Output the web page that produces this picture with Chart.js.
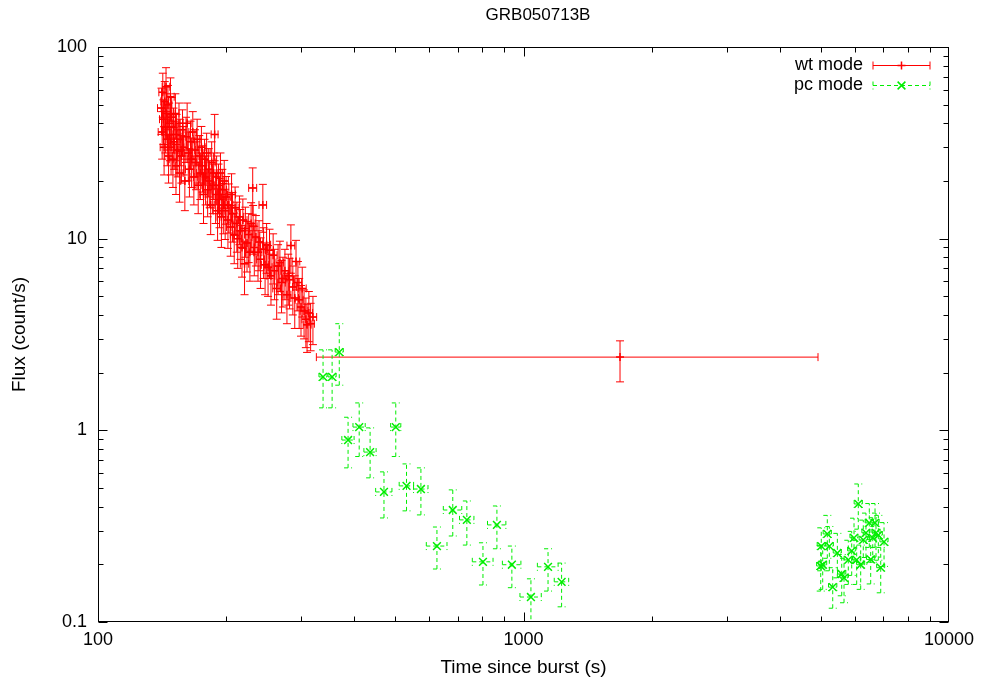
<!DOCTYPE html>
<html><head><meta charset="utf-8">
<script src="https://cdn.jsdelivr.net/npm/chart.js@4/dist/chart.umd.min.js"></script>
<style>html,body{margin:0;padding:0;background:#fff}</style>
</head><body>
<canvas id="c" width="987" height="687"></canvas>
<script>
// ---------- data ----------
const chartTitle = 'GRB050713B';
const xTitle = 'Time since burst (s)';
const yTitle = 'Flux (count/s)';
const xTickValues = [100, 1000, 10000];
const xTickLabels = ['100', '1000', '10000'];
const yTickValues = [0.1, 1, 10, 100];
const yTickLabels = ['0.1', '1', '10', '100'];
const seriesNames = ['wt mode', 'pc mode'];

// wt mode (early dense segment)
const wtX = [141,141.5,142,142.5,143,143.5,144,144.5,145,145.5,
  146,146.5,147,147.5,148,148.5,149,150,150.5,151,
  152,152.5,153,154,155,155.5,156,157,158,159,
  160,161,162,163,164,165,166,167,168,169,
  170,171,172,173,174,175,176,177,178,179,
  180,181,182,183,184,185,186,187,188,189,
  190,191,192,193,194,195,196,197,198,199,
  200,202,203,205,206,207,209,210,212,213,
  215,216,218,219,221,222,224,226,227.5,229,
  231,231.5,233,235,237.7,239,241,244,245,247,
  249,251,253,255,258,260,263,265,267.6,270,
  272,275,278,280,282,284,287,290,292,295,
  297,300,302,305,308,310,313,316,320];
const wtY = [48,36,58,42,30,52,38,62,45,33,
  50,27,40,35,55,30,43,26,38,32,
  45,24,35,29,40,22,33,27,37,30,
  20,34,40,28,23,32,26,36,21,29,
  25,33,19,27,22,30,24,17,26,21,
  28,18,23,20,15,25,19,22,35,17,
  21,14,19,16,22,13,18,15,20,14,
  16.5,12.5,15,11.5,17,13.5,10.5,14.5,12,10,
  13,11,9,12.5,7.4,11.3,9.5,10.5,8.5,12,
  18.4,11.6,9,10.2,8.5,9.6,7.8,15,8.8,7.3,
  9.3,7.1,8.7,6.4,8.2,6.8,5.5,7.2,7.5,5.9,
  6.2,6.8,5.1,6.4,6.1,9.2,5.6,4.9,7.6,5.9,
  4.8,4.4,5.5,4.2,3.8,3.55,4.1,3.6,3.9];
const wtYerr = [13,10,15,11,8.5,14,10,16,12,9,
  13,7.5,11,9.5,14,8.5,11.5,7.5,10,9,
  12,7,9.5,8,11,6.5,9,7.5,10,8.5,
  6,9,11,8,6.5,9,7.5,10,6,8,
  7,9,5.5,7.5,6,8.5,6.5,5,7,6,
  7.5,5,6.5,5.5,4.5,7,5.5,6,9.5,5,
  6,4.2,5.5,4.6,6,4,5,4.4,5.6,4.1,
  4.6,3.6,4.3,3.4,4.8,3.9,3.1,4.1,3.5,3,
  3.7,3.2,2.7,3.6,2.3,3.3,2.8,3,2.5,3.4,
  5,3.3,2.6,3,2.5,2.8,2.3,4.2,2.6,2.2,
  2.7,2.1,2.5,1.9,2.4,2,1.7,2.1,2.2,1.8,
  1.8,2,1.5,1.9,1.8,2.6,1.6,1.5,2.2,1.7,
  1.4,1.3,1.6,1.2,1.1,1,1.2,1,1.1];
const wtXerr = [3,3,3,3,3,3,3,3,3,3,
  3,3,3,3,3,3,3,3,3,3,
  3,3,3,3,3,3,3,3,3,3,
  3.5,3.5,3.5,3.5,3.5,3.5,3.5,3.5,3.5,3.5,
  3.5,3.5,3.5,3.5,3.5,3.5,3.5,3.5,3.5,3.5,
  3.5,3.5,3.5,3.5,3.5,3.5,3.5,3.5,3.5,3.5,
  4.5,4.5,4.5,4.5,4.5,4.5,4.5,4.5,4.5,4.5,
  4.5,4.5,4.5,4.5,4.5,4.5,4.5,4.5,4.5,4.5,
  5,5,5,5,5,5,5,5,5,5,
  5,5,5,5,5,5,5,5,5,5,
  5.5,5.5,5.5,5.5,5.5,5.5,5.5,5.5,5.5,5.5,
  6,6,6,6,6,6,6,6,6,6,
  6.5,6.5,6.5,6.5,6.5,6.5,6.5,6.5,6.5];
// wt mode (single wide late bin)
const wtLateX = [1686];
const wtLateY = [2.41];
const wtLateXlo = [326];
const wtLateXhi = [4922];
const wtLateYlo = [1.79];
const wtLateYhi = [2.93];

// pc mode
const pcX = [338,355,369,387,411,436,470,501,531,574,
  626,682,736,803,866,939,1041,1142,1229,
  4995,5049,5010,5176,5233,5330,5465,5596,5666,5799,
  5907,5981,6068,6121,6201,6289,6381,6497,6546,6619,
  6701,6737,6822,6911,7036];
const pcY = [1.90,1.90,2.56,0.89,1.04,0.77,0.477,1.04,0.513,0.494,
  0.249,0.384,0.341,0.206,0.321,0.199,0.135,0.194,0.162,
  0.196,0.199,0.249,0.288,0.249,0.152,0.229,0.178,0.170,0.211,
  0.235,0.275,0.211,0.413,0.199,0.268,0.292,0.329,0.212,0.275,
  0.329,0.292,0.284,0.192,0.262];
const pcYlo = [1.31,1.31,1.72,0.637,0.73,0.565,0.349,0.73,0.38,0.362,
  0.189,0.281,0.252,0.156,0.241,0.151,0.095,0.145,0.12,
  0.145,0.148,0.185,0.215,0.185,0.118,0.17,0.137,0.126,0.157,
  0.175,0.205,0.157,0.305,0.148,0.2,0.217,0.245,0.158,0.205,
  0.245,0.218,0.21,0.142,0.195];
const pcYhi = [2.63,2.63,3.6,1.17,1.39,1.03,0.607,1.39,0.668,0.637,
  0.313,0.489,0.428,0.259,0.403,0.249,0.168,0.241,0.203,
  0.25,0.252,0.31,0.36,0.315,0.192,0.29,0.225,0.215,0.267,
  0.297,0.348,0.267,0.525,0.252,0.34,0.37,0.415,0.27,0.35,
  0.415,0.37,0.36,0.245,0.33];
const pcXerr = [7.4,7.8,8.1,12.8,13.6,14.4,20.7,13.8,20.7,22.4,
  35,34,28.7,45,43,47,60,64,48,
  110,110,110,115,115,120,120,125,125,130,
  130,130,135,135,135,140,140,145,145,145,
  150,150,150,150,155];

// ---------- build chart data ----------
const wtData = wtX.map((x, i) => ({
  x: x, y: wtY[i],
  xMin: x - wtXerr[i], xMax: x + wtXerr[i],
  yMin: wtY[i] - wtYerr[i], yMax: wtY[i] + wtYerr[i]
})).concat(wtLateX.map((x, i) => ({
  x: x, y: wtLateY[i], xMin: wtLateXlo[i], xMax: wtLateXhi[i],
  yMin: wtLateYlo[i], yMax: wtLateYhi[i]
})));
const pcData = pcX.map((x, i) => ({
  x: x, y: pcY[i], xMin: x - pcXerr[i], xMax: x + pcXerr[i],
  yMin: pcYlo[i], yMax: pcYhi[i]
}));

const FONT = "'Liberation Sans', Arial, Helvetica, sans-serif";
const CAP = 4;

const errorBars = {
  id: 'errorBars',
  beforeDatasetsDraw(chart) {
    const {ctx, chartArea: a, scales: {x, y}} = chart;
    ctx.save();
    ctx.beginPath();
    ctx.rect(a.left, a.top, a.right - a.left, a.bottom - a.top);
    ctx.clip();
    chart.data.datasets.forEach((ds) => {
      ctx.strokeStyle = ds.borderColor;
      ctx.lineWidth = 1;
      ctx.setLineDash(ds.errDash || []);
      ds.data.forEach(p => {
        const px = x.getPixelForValue(p.x), py = y.getPixelForValue(p.y);
        const x0 = x.getPixelForValue(p.xMin), x1 = x.getPixelForValue(p.xMax);
        const y0 = y.getPixelForValue(Math.max(p.yMin, 1e-3)), y1 = y.getPixelForValue(p.yMax);
        ctx.beginPath();
        ctx.moveTo(x0, py); ctx.lineTo(x1, py);
        ctx.moveTo(x0, py - CAP); ctx.lineTo(x0, py + CAP);
        ctx.moveTo(x1, py - CAP); ctx.lineTo(x1, py + CAP);
        ctx.stroke();
        ctx.beginPath();
        ctx.moveTo(px, y0); ctx.lineTo(px, y1);
        ctx.moveTo(px - CAP, y0); ctx.lineTo(px + CAP, y0);
        ctx.moveTo(px - CAP, y1); ctx.lineTo(px + CAP, y1);
        ctx.stroke();
      });
    });
    ctx.restore();
  }
};

const frameTicks = {
  id: 'frameTicks',
  afterDraw(chart) {
    const {ctx, chartArea: a, scales: {x, y}} = chart;
    ctx.save();
    ctx.strokeStyle = '#000';
    ctx.lineWidth = 1;
    ctx.setLineDash([]);
    const L = Math.round(a.left) + 0.5, R = Math.round(a.right) - 0.5;
    const T = Math.round(a.top) + 0.5, B = Math.round(a.bottom) - 0.5;
    ctx.strokeRect(L, T, R - L, B - T);
    ctx.beginPath();
    const xLo = Math.log10(x.min), xHi = Math.log10(x.max);
    for (let d = Math.floor(xLo); d < xHi; d++) {
      for (let k = 1; k <= 9; k++) {
        const v = k * Math.pow(10, d);
        if (v < x.min || v > x.max) continue;
        const len = k === 1 ? 9 : 5;
        const px = Math.round(x.getPixelForValue(v)) + 0.5;
        ctx.moveTo(px, B); ctx.lineTo(px, B - len);
        ctx.moveTo(px, T); ctx.lineTo(px, T + len);
      }
    }
    const yLo = Math.log10(y.min), yHi = Math.log10(y.max);
    for (let d = Math.round(yLo); d < Math.round(yHi); d++) {
      for (let k = 1; k <= 9; k++) {
        const v = k * Math.pow(10, d);
        const len = k === 1 ? 9 : 5;
        const py = Math.round(y.getPixelForValue(v)) + 0.5;
        ctx.moveTo(L, py); ctx.lineTo(L + len, py);
        ctx.moveTo(R, py); ctx.lineTo(R - len, py);
      }
    }
    const pyTop = Math.round(y.getPixelForValue(y.max)) + 0.5;
    ctx.moveTo(L, pyTop); ctx.lineTo(L + 9, pyTop);
    ctx.moveTo(R, pyTop); ctx.lineTo(R - 9, pyTop);
    const pxR = Math.round(x.getPixelForValue(x.max)) - 0.5;
    ctx.moveTo(pxR, B); ctx.lineTo(pxR, B - 9);
    ctx.moveTo(pxR, T); ctx.lineTo(pxR, T + 9);
    ctx.stroke();
    ctx.restore();
  }
};

const titleAndKey = {
  id: 'titleAndKey',
  afterDraw(chart) {
    const {ctx, chartArea: a} = chart;
    ctx.save();
    // chart title
    ctx.fillStyle = '#000';
    ctx.font = '17px ' + FONT;
    ctx.textAlign = 'center';
    ctx.textBaseline = 'middle';
    ctx.fillText(chartTitle, 538, 15);
    // key
    ctx.font = '18px ' + FONT;
    ctx.textAlign = 'right';
    const textR = a.right - 86, x0 = a.right - 76, x1 = a.right - 19;
    chart.data.datasets.forEach((ds, i) => {
      const yy = Math.round(a.top + 18 + i * 20) + 0.5;
      ctx.fillStyle = '#000';
      ctx.fillText(ds.label, textR, yy);
      ctx.strokeStyle = ds.borderColor;
      ctx.lineWidth = 1;
      ctx.setLineDash(ds.errDash || []);
      ctx.beginPath();
      ctx.moveTo(x0, yy); ctx.lineTo(x1, yy);
      ctx.moveTo(x0, yy - CAP); ctx.lineTo(x0, yy + CAP);
      ctx.moveTo(x1, yy - CAP); ctx.lineTo(x1, yy + CAP);
      ctx.stroke();
      ctx.setLineDash([]);
      ctx.lineWidth = 1.5;
      const cx = (x0 + x1) / 2, r = ds.pointRadius;
      ctx.beginPath();
      if (ds.pointStyle === 'cross') {
        ctx.moveTo(cx - r, yy); ctx.lineTo(cx + r, yy);
        ctx.moveTo(cx, yy - r); ctx.lineTo(cx, yy + r);
      } else {
        const q = r * 0.7071;
        ctx.moveTo(cx - q, yy - q); ctx.lineTo(cx + q, yy + q);
        ctx.moveTo(cx - q, yy + q); ctx.lineTo(cx + q, yy - q);
      }
      ctx.stroke();
    });
    ctx.restore();
  }
};

new Chart(document.getElementById('c'), {
  type: 'scatter',
  data: {
    datasets: [
      { label: seriesNames[0], data: wtData, borderColor: '#ff0000', backgroundColor: '#ff0000',
        pointStyle: 'cross', pointRadius: 4, borderWidth: 1.5, showLine: false, errDash: [] },
      { label: seriesNames[1], data: pcData, borderColor: '#00ee00', backgroundColor: '#00ee00',
        pointStyle: 'crossRot', pointRadius: 5.5, borderWidth: 1.5, showLine: false, errDash: [4, 3] }
    ]
  },
  options: {
    responsive: false,
    animation: false,
    devicePixelRatio: 1,
    layout: { padding: { left: 0, right: 38, top: 47, bottom: 0 } },
    plugins: {
      legend: { display: false },
      tooltip: { enabled: false },
      title: { display: false }
    },
    scales: {
      x: {
        type: 'logarithmic', min: 100, max: 10000, position: 'bottom',
        grid: { display: false, drawTicks: false }, border: { display: false },
        afterBuildTicks(s) { s.ticks = xTickValues.map(v => ({ value: v, major: true })); },
        ticks: { padding: 7, color: '#000', autoSkip: false, maxRotation: 0,
          font: { size: 18, family: FONT },
          callback: (v, i) => xTickLabels[i] },
        title: { display: true, text: xTitle, color: '#000',
          font: { size: 19, family: FONT }, padding: { top: 0, bottom: 7.5 } },
        afterFit(s) { s.height = 65; }
      },
      y: {
        type: 'logarithmic', min: 0.1, max: 100, position: 'left',
        grid: { display: false, drawTicks: false }, border: { display: false },
        afterBuildTicks(s) { s.ticks = yTickValues.map(v => ({ value: v, major: true })); },
        ticks: { padding: 11, color: '#000', autoSkip: false,
          font: { size: 18, family: FONT },
          callback: (v, i) => yTickLabels[i] },
        title: { display: true, text: yTitle, color: '#000',
          font: { size: 19, family: FONT }, padding: { top: 8.5, bottom: 0 } },
        afterFit(s) { s.width = 98; }
      }
    }
  },
  plugins: [errorBars, frameTicks, titleAndKey]
});
</script>
</body></html>
